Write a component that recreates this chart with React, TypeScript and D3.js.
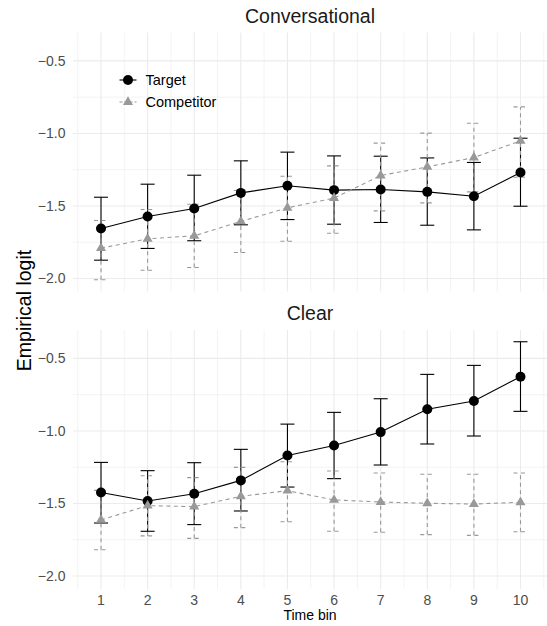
import React from "react";
import * as d3 from "d3";

const bins = [1, 2, 3, 4, 5, 6, 7, 8, 9, 10];
const panels = ["Conversational", "Clear"];
const seriesNames = ["Target", "Competitor"];
const yTicks = [-2.0, -1.5, -1.0, -0.5];
const yMinorTicks = [-1.75, -1.25, -0.75];

// Conversational
const convTarget = [-1.656, -1.573, -1.518, -1.41, -1.361, -1.391, -1.387, -1.403, -1.433, -1.27];
const convTargetLo = [-1.874, -1.793, -1.74, -1.63, -1.594, -1.626, -1.614, -1.633, -1.665, -1.502];
const convTargetHi = [-1.44, -1.35, -1.288, -1.189, -1.129, -1.155, -1.157, -1.169, -1.2, -1.033];
const convComp = [-1.791, -1.727, -1.706, -1.607, -1.513, -1.446, -1.29, -1.231, -1.166, -1.051];
const convCompLo = [-2.009, -1.943, -1.924, -1.821, -1.743, -1.688, -1.534, -1.479, -1.403, -1.302];
const convCompHi = [-1.6, -1.525, -1.488, -1.394, -1.295, -1.224, -1.067, -0.998, -0.93, -0.817];

// Clear
const clearTarget = [-1.424, -1.483, -1.433, -1.341, -1.169, -1.1, -1.008, -0.851, -0.794, -0.626];
const clearTargetLo = [-1.635, -1.692, -1.646, -1.552, -1.387, -1.329, -1.235, -1.09, -1.035, -0.865];
const clearTargetHi = [-1.217, -1.274, -1.219, -1.127, -0.953, -0.872, -0.778, -0.61, -0.548, -0.385];
const clearComp = [-1.614, -1.515, -1.522, -1.451, -1.412, -1.476, -1.49, -1.499, -1.504, -1.492];
const clearCompLo = [-1.819, -1.724, -1.741, -1.667, -1.626, -1.692, -1.699, -1.715, -1.72, -1.695];
const clearCompHi = [-1.41, -1.309, -1.322, -1.251, -1.212, -1.276, -1.29, -1.299, -1.299, -1.29];

const W = 547;
const H = 626;
const FONT = "'Liberation Sans', Arial, Helvetica, sans-serif";
const GREY = "#999999";

type Series = { name: string; mean: number[]; lo: number[]; hi: number[] };

const panelData: Series[][] = [
  [
    { name: seriesNames[0], mean: convTarget, lo: convTargetLo, hi: convTargetHi },
    { name: seriesNames[1], mean: convComp, lo: convCompLo, hi: convCompHi },
  ],
  [
    { name: seriesNames[0], mean: clearTarget, lo: clearTargetLo, hi: clearTargetHi },
    { name: seriesNames[1], mean: clearComp, lo: clearCompLo, hi: clearCompHi },
  ],
];

const x = d3.scaleLinear().domain([0.5, 10.5]).range([77.7, 543.8]);
const yDomain = [-2.09, -0.304];
const panelRanges: [number, number][] = [
  [291.5, 32.5],
  [589, 330],
];
const titleBaselines = [22.7, 319.7];

const styleFor = (i: number) =>
  i === 0
    ? { color: "#000000", dash: undefined as string | undefined }
    : { color: GREY, dash: "4,3.5" };

function triPath(cx: number, cy: number, r: number) {
  const hw = (r * Math.sqrt(3)) / 2;
  return `M${cx},${cy - r}L${cx + hw},${cy + r / 2}L${cx - hw},${cy + r / 2}Z`;
}

function Panel({ idx }: { idx: number }) {
  const y = d3.scaleLinear().domain(yDomain).range(panelRanges[idx]);
  const left = x(0.4);
  const right = Math.min(x(10.6), W);
  const top = panelRanges[idx][1];
  const bottom = panelRanges[idx][0];
  const minorX = d3.range(0.5, 11, 1);
  const series = panelData[idx];
  const line = d3
    .line<number>()
    .x((_, i) => x(bins[i]))
    .y((d) => y(d));
  const capHalf = 7;
  return (
    <g>
      {yMinorTicks.map((t) => (
        <line key={"ym" + t} x1={left} x2={right} y1={y(t)} y2={y(t)} stroke="#ebebeb" strokeWidth={0.6} />
      ))}
      {minorX.map((t) => (
        <line key={"xm" + t} x1={x(t)} x2={x(t)} y1={top} y2={bottom} stroke="#ebebeb" strokeWidth={0.6} />
      ))}
      {yTicks.map((t) => (
        <line key={"y" + t} x1={left} x2={right} y1={y(t)} y2={y(t)} stroke="#ebebeb" strokeWidth={1.1} />
      ))}
      {bins.map((t) => (
        <line key={"x" + t} x1={x(t)} x2={x(t)} y1={top} y2={bottom} stroke="#ebebeb" strokeWidth={1.1} />
      ))}
      {yTicks.map((t) => (
        <text
          key={"yl" + t}
          x={65.5}
          y={y(t)}
          textAnchor="end"
          dominantBaseline="central"
          fontSize={14}
          fill="#4d4d4d"
          fontFamily={FONT}
        >
          {d3.format(".1f")(t).replace("-", "\u2212")}
        </text>
      ))}
      <text
        x={(left + right) / 2}
        y={titleBaselines[idx]}
        textAnchor="middle"
        fontSize={19.5}
        fill="#1a1a1a"
        fontFamily={FONT}
      >
        {panels[idx]}
      </text>
      {series.map((s, i) => {
        const st = styleFor(i);
        return (
          <path
            key={"l" + i}
            d={line(s.mean) || ""}
            fill="none"
            stroke={st.color}
            strokeWidth={1.1}
            strokeDasharray={st.dash}
          />
        );
      })}
      {series.map((s, i) => {
        const st = styleFor(i);
        return (
          <g key={"e" + i} stroke={st.color} strokeWidth={1.1} strokeDasharray={st.dash} fill="none">
            {bins.map((b, j) => (
              <g key={b}>
                <line x1={x(b)} x2={x(b)} y1={y(s.lo[j])} y2={y(s.hi[j])} />
                <line x1={x(b) - capHalf} x2={x(b) + capHalf} y1={y(s.lo[j])} y2={y(s.lo[j])} />
                <line x1={x(b) - capHalf} x2={x(b) + capHalf} y1={y(s.hi[j])} y2={y(s.hi[j])} />
              </g>
            ))}
          </g>
        );
      })}
      {series.map((s, i) => (
        <g key={"p" + i}>
          {bins.map((b, j) =>
            i === 0 ? (
              <circle key={b} cx={x(b)} cy={y(s.mean[j])} r={5} fill="#000" />
            ) : (
              <path key={b} d={triPath(x(b), y(s.mean[j]), 5.8)} fill={GREY} />
            )
          )}
        </g>
      ))}
    </g>
  );
}

export default function App() {
  const legendY = [80, 102];
  return (
    <svg
      width={W}
      height={H}
      viewBox={`0 0 ${W} ${H}`}
      style={{ position: "absolute", left: 0, top: 0, display: "block", background: "#fff" }}
    >
      <rect x={0} y={0} width={W} height={H} fill="#fff" />
      <Panel idx={0} />
      <Panel idx={1} />
      {bins.map((b) => (
        <text
          key={"xt" + b}
          x={x(b)}
          y={600}
          textAnchor="middle"
          dominantBaseline="central"
          fontSize={14}
          fill="#4d4d4d"
          fontFamily={FONT}
        >
          {b}
        </text>
      ))}
      <text x={310} y={615} textAnchor="middle" dominantBaseline="central" fontSize={14} fill="#000" fontFamily={FONT}>
        Time bin
      </text>
      <text
        transform={`translate(24,310.5) rotate(-90)`}
        textAnchor="middle"
        dominantBaseline="central"
        fontSize={19.5}
        fill="#000"
        fontFamily={FONT}
      >
        Empirical logit
      </text>
      {seriesNames.map((n, i) => {
        const st = styleFor(i);
        const ly = legendY[i];
        return (
          <g key={"lg" + n}>
            <line x1={119.5} x2={136.5} y1={ly} y2={ly} stroke={st.color} strokeWidth={1.1} strokeDasharray={i === 0 ? undefined : "3,2"} />
            {i === 0 ? (
              <circle cx={128} cy={ly} r={5} fill="#000" />
            ) : (
              <path d={triPath(128, ly, 5.8)} fill={GREY} />
            )}
            <text x={145.5} y={ly} dominantBaseline="central" fontSize={14.5} fill="#000" fontFamily={FONT}>
              {n}
            </text>
          </g>
        );
      })}
    </svg>
  );
}
